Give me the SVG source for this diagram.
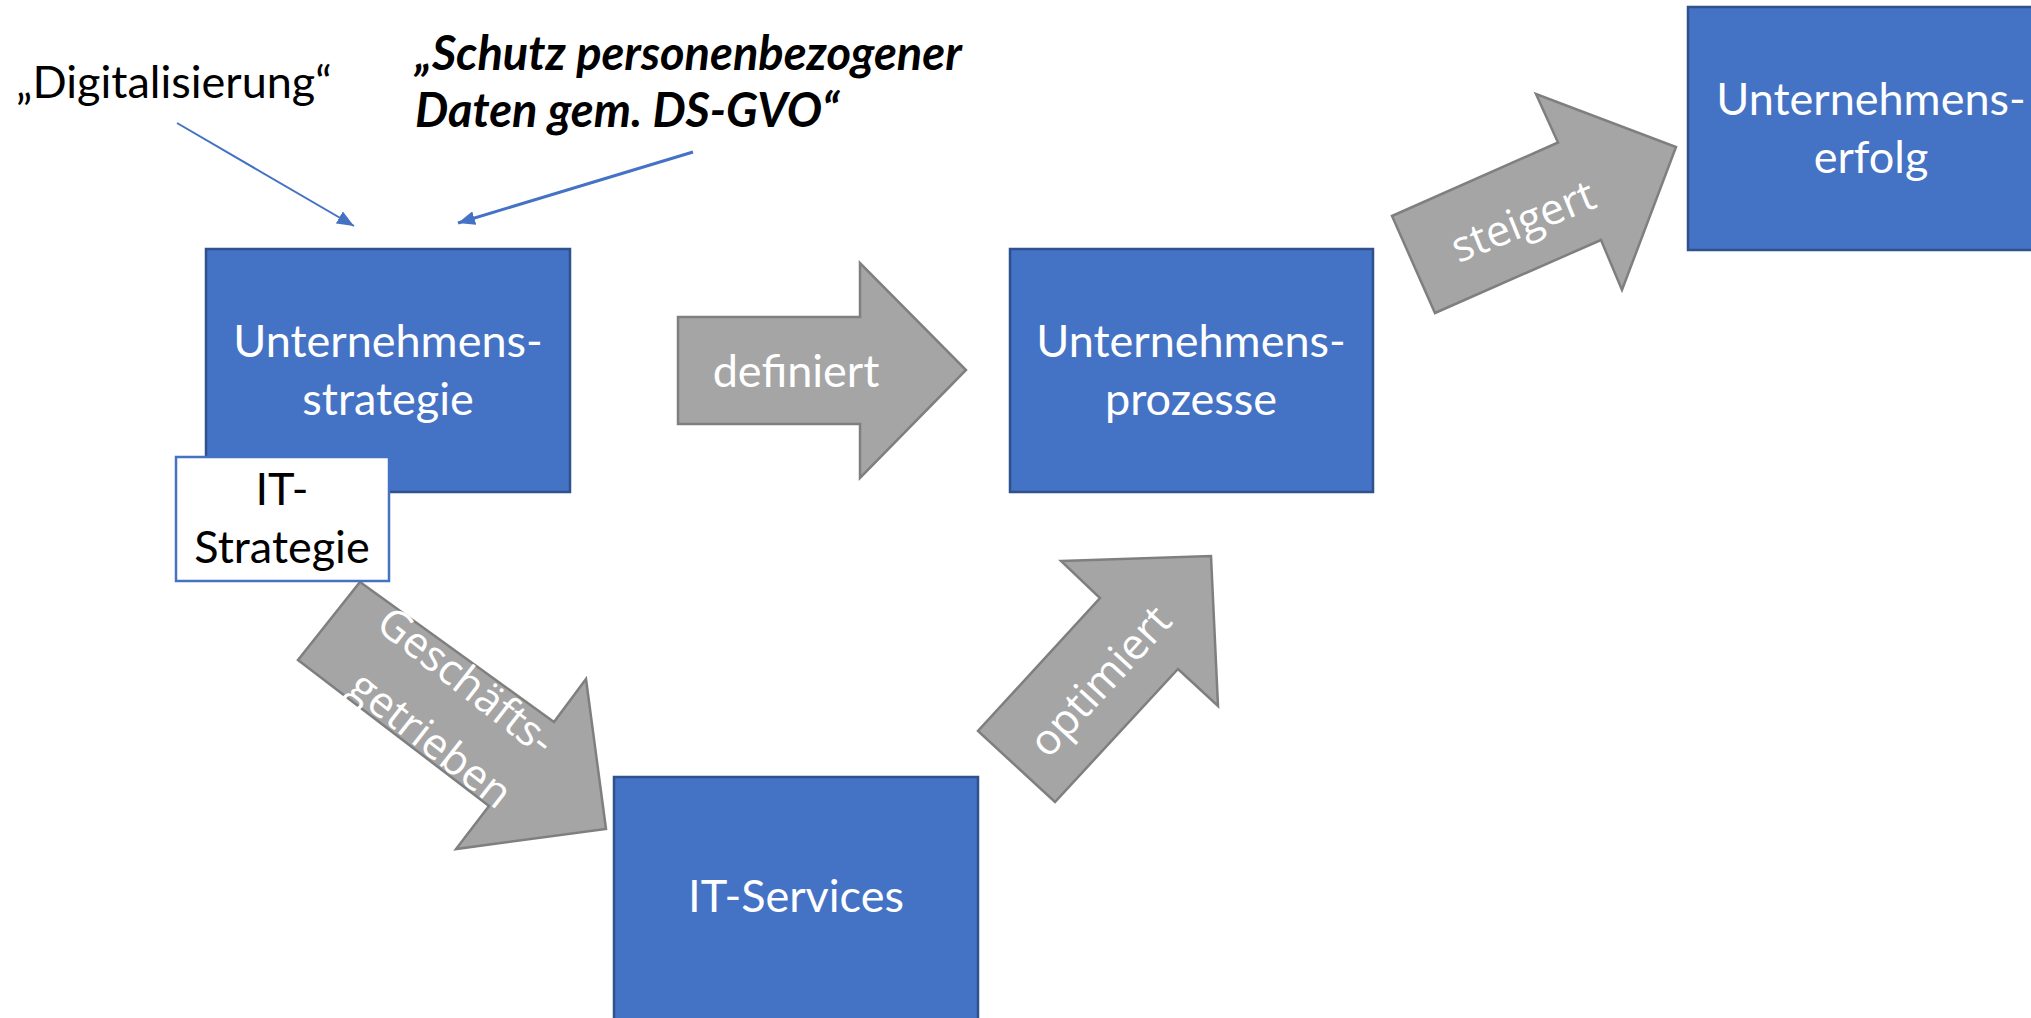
<svg xmlns="http://www.w3.org/2000/svg" width="2031" height="1018" viewBox="0 0 2031 1018">
<style>
.box{fill:#4472C4;stroke:#2F528F;stroke-width:2.5}
.wbox{fill:#FFFFFF;stroke:#4472C4;stroke-width:2.5}
.blk{fill:#A5A5A5;stroke:#7F7F7F;stroke-width:2.5;stroke-linejoin:miter}
.wt{font-family:Lato,"Liberation Sans",sans-serif;font-size:45px;fill:#FFFFFF;text-anchor:middle}
.bt{font-family:Lato,"Liberation Sans",sans-serif;font-size:45px;fill:#000000}
.bi{font-family:Lato,"Liberation Sans",sans-serif;font-size:47px;font-weight:700;font-style:italic;fill:#000000}
.rt{font-family:"Open Sans","Noto Sans",sans-serif;font-size:43px;fill:#FFFFFF;text-anchor:middle}
.ln{fill:none;stroke:#4472C4}
</style>
<defs>
<marker id="ah" markerUnits="userSpaceOnUse" markerWidth="18" markerHeight="14" refX="17" refY="7" orient="auto">
<path d="M0,0 L17,7 L0,14 z" fill="#4472C4"/>
</marker>
</defs>
<rect width="2031" height="1018" fill="#FFFFFF"/>
<g id="connectors">
<line class="ln" stroke-width="2" x1="177" y1="123" x2="354" y2="226" marker-end="url(#ah)"/>
<line class="ln" stroke-width="3" x1="693" y1="152" x2="458" y2="223" marker-end="url(#ah)"/>
<g id="arrow-definiert">
<polygon class="blk" points="678,317 860,317 860,263 966,370 860,478 860,424 678,424"/>
<text class="wt" x="796" y="387">definiert</text>
</g>
<g id="arrow-steigert">
<polygon class="blk" points="1392,216 1558,142.5 1536,94 1676,147 1622,290 1601,240 1435,313"/>
<text class="rt" transform="translate(1523,221) rotate(-22)" x="0" y="15">steigert</text>
</g>
<g id="arrow-geschaeftsgetrieben">
<polygon class="blk" points="360,582 554,722 586,679 606,829 456,849 489,806 298,660"/>
<text class="rt" transform="translate(448,711) rotate(38)"><tspan x="-4" y="-20">Geschäfts-</tspan><tspan x="4" y="48">getrieben</tspan></text>
</g>
<g id="arrow-optimiert">
<polygon class="blk" points="1061,561 1211,556 1218,706 1178,669 1055,802 978,731 1100,598"/>
<text class="rt" transform="translate(1100,681) rotate(-47.5)" x="0" y="15">optimiert</text>
</g>
</g>
<g id="node-digitalisierung">
<text class="bt" x="16" y="98">„Digitalisierung“</text>
</g>
<g id="node-dsgvo">
<text class="bi"><tspan x="415" y="70">„Schutz personenbezogener</tspan><tspan x="415" y="127">Daten gem. DS-GVO“</tspan></text>
</g>
<g id="node-unternehmensstrategie">
<rect class="box" x="206" y="249" width="364" height="243"/>
<text class="wt"><tspan x="388" y="357">Unternehmens-</tspan><tspan x="388" y="415">strategie</tspan></text>
</g>
<g id="node-it-strategie">
<rect class="wbox" x="176" y="457" width="213" height="124"/>
<text class="bt" text-anchor="middle"><tspan x="282" y="505">IT-</tspan><tspan x="282" y="563">Strategie</tspan></text>
</g>
<g id="node-unternehmensprozesse">
<rect class="box" x="1010" y="249" width="363" height="243"/>
<text class="wt"><tspan x="1191" y="357">Unternehmens-</tspan><tspan x="1191" y="415">prozesse</tspan></text>
</g>
<g id="node-unternehmenserfolg">
<rect class="box" x="1688" y="7" width="364" height="243"/>
<text class="wt"><tspan x="1871" y="115">Unternehmens-</tspan><tspan x="1871" y="173">erfolg</tspan></text>
</g>
<g id="node-it-services">
<rect class="box" x="614" y="777" width="364" height="243"/>
<text class="wt" x="796" y="912">IT-Services</text>
</g>
</svg>
